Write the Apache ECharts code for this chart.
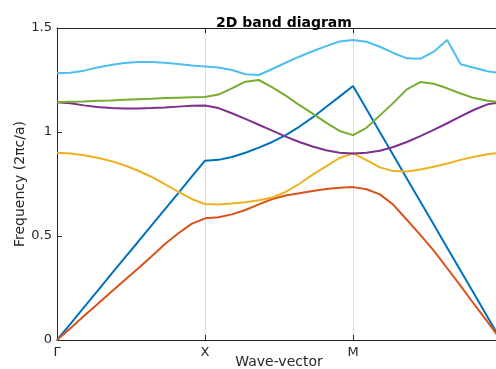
<!DOCTYPE html>
<html lang="en">
<head>
	<meta charset="UTF-8">
	<title>2D band diagram</title>
	<style>
		body, div {
			margin: 0;
			padding: 0;
		}
		#main {
			width: 496px;
			height: 369px;
		}
	</style>
</head>
<body>
	<div id="main"></div>

	<script src="https://cdn.jsdelivr.net/npm/echarts@6/dist/echarts.min.js"></script>

	<script>
	// high-symmetry points, 11 steps per segment
	var kLabels = ['Γ', 'X', 'M', 'Γ'];
	var stepsPerSegment = 11;

	// bands, one value per k-point (34 points)
	var band1 = [0, 0.078, 0.157, 0.235, 0.314, 0.392, 0.470, 0.549, 0.627, 0.705, 0.784, 0.862,
		0.866, 0.880, 0.900, 0.925, 0.952, 0.985, 1.025, 1.070, 1.120, 1.170, 1.221,
		1.110, 0.999, 0.888, 0.777, 0.666, 0.555, 0.444, 0.333, 0.222, 0.111, 0];
	var band2 = [0, 0.057, 0.115, 0.172, 0.229, 0.286, 0.342, 0.400, 0.460, 0.512, 0.558, 0.585,
		0.590, 0.604, 0.625, 0.652, 0.678, 0.695, 0.705, 0.716, 0.726, 0.732, 0.735,
		0.725, 0.700, 0.650, 0.578, 0.505, 0.430, 0.345, 0.260, 0.172, 0.087, 0];
	var band3 = [0.900, 0.897, 0.888, 0.876, 0.861, 0.840, 0.815, 0.785, 0.750, 0.713, 0.678, 0.654,
		0.652, 0.656, 0.662, 0.672, 0.685, 0.712, 0.750, 0.795, 0.835, 0.875, 0.897,
		0.865, 0.830, 0.812, 0.810, 0.820, 0.833, 0.849, 0.866, 0.881, 0.893, 0.900];
	var band4 = [1.143, 1.138, 1.128, 1.120, 1.115, 1.113, 1.113, 1.115, 1.118, 1.122, 1.126, 1.127,
		1.115, 1.090, 1.063, 1.035, 1.007, 0.978, 0.952, 0.930, 0.912, 0.900, 0.897,
		0.900, 0.910, 0.928, 0.952, 0.980, 1.010, 1.042, 1.075, 1.107, 1.133, 1.143];
	var band5 = [1.143, 1.145, 1.147, 1.150, 1.152, 1.155, 1.158, 1.160, 1.163, 1.165, 1.167, 1.168,
		1.180, 1.210, 1.242, 1.250, 1.215, 1.175, 1.130, 1.088, 1.045, 1.005, 0.985,
		1.020, 1.080, 1.140, 1.205, 1.240, 1.232, 1.210, 1.185, 1.163, 1.150, 1.143];
	var band6 = [1.282, 1.285, 1.295, 1.310, 1.322, 1.332, 1.336, 1.337, 1.333, 1.327, 1.320, 1.315,
		1.310, 1.298, 1.278, 1.274, 1.303, 1.333, 1.362, 1.388, 1.413, 1.435, 1.442,
		1.434, 1.410, 1.380, 1.354, 1.352, 1.386, 1.442, 1.326, 1.309, 1.292, 1.282];

	var bands = [band1, band2, band3, band4, band5, band6];
	var colors = ['#0072BD', '#D95319', '#EDB120', '#7E2F8E', '#77AC30', '#4DBEEE'];

	var axisColor = '#262626';
	var font = 'DejaVu Sans';

	var myEcharts = echarts.init(document.getElementById('main'));

	var series = bands.map(function (b, n) {
		return {
			type: 'line',
			showSymbol: false,
			smooth: false,
			lineStyle: { width: 2, color: colors[n] },
			itemStyle: { color: colors[n] },
			data: b.map(function (v, i) { return [i / stepsPerSegment, v]; })
		};
	});

	var options = {
		animation: false,
		textStyle: { fontFamily: font },
		title: {
			text: '2D band diagram',
			left: 279,
			top: 11,
			textAlign: 'center',
			textStyle: { fontFamily: font, fontSize: 14, fontWeight: 'bold', color: '#000' }
		},
		// plot runs a few px past the right edge, like the original figure
		grid: { left: 57, right: -5, top: 28, bottom: 29, outerBoundsMode: 'none', containLabel: false },
		xAxis: [{
			type: 'value',
			min: 0,
			max: 3,
			interval: 1,
			name: 'Wave-vector',
			nameLocation: 'middle',
			nameGap: 15,
			nameMoveOverlap: false,
			nameTextStyle: { fontFamily: font, fontSize: 14, color: axisColor },
			axisLine: { lineStyle: { color: axisColor, width: 1 } },
			axisTick: { inside: true, length: 5, lineStyle: { color: axisColor } },
			axisLabel: {
				margin: 6,
				fontSize: 13,
				color: axisColor,
				formatter: function (v) { return kLabels[Math.round(v)]; }
			},
			splitLine: { show: true, lineStyle: { color: '#dcdcdc', width: 1 } }
		}, {
			type: 'value',
			position: 'top',
			min: 0,
			max: 3,
			interval: 1,
			axisLine: { show: true, onZero: false, lineStyle: { color: axisColor, width: 1 } },
			axisTick: { inside: true, length: 5, lineStyle: { color: axisColor } },
			axisLabel: { show: false },
			splitLine: { show: false }
		}],
		yAxis: {
			type: 'value',
			min: 0,
			max: 1.5,
			interval: 0.5,
			name: 'Frequency (2πc/a)',
			nameLocation: 'middle',
			nameGap: 30,
			nameMoveOverlap: false,
			nameTextStyle: { fontFamily: font, fontSize: 14, color: axisColor },
			axisLine: { show: true, lineStyle: { color: axisColor, width: 1 } },
			axisTick: { show: true, inside: true, length: 5, lineStyle: { color: axisColor } },
			axisLabel: { margin: 5, fontSize: 13, color: axisColor },
			splitLine: { show: false }
		},
		series: series
	};

	myEcharts.setOption(options);
	</script>

</body>
</html>
